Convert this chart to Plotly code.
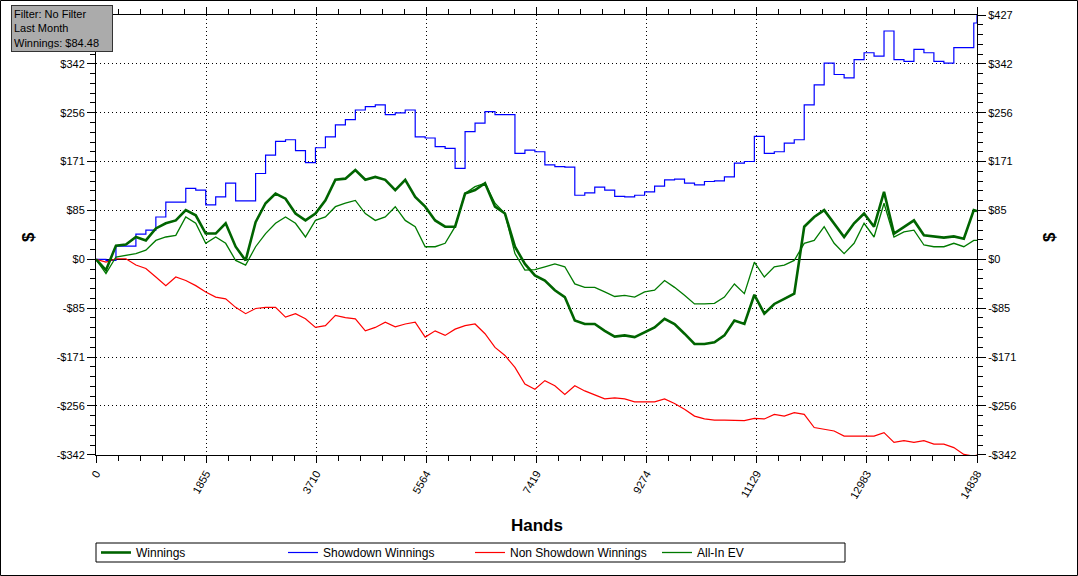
import plotly.graph_objects as go

hands = [0, 168, 336, 504, 672, 840, 1008, 1176, 1344, 1512, 1680, 1848, 2016, 2184, 2352,
         2520, 2688, 2856, 3024, 3192, 3360, 3528, 3696, 3864, 4032, 4200, 4368, 4536, 4704,
         4872, 5040, 5208, 5376, 5544, 5712, 5880, 6048, 6216, 6384, 6552, 6720, 6888, 7056,
         7224, 7392, 7560, 7728, 7896, 8064, 8232, 8400, 8568, 8736, 8904, 9072, 9240, 9408,
         9576, 9744, 9912, 10080, 10248, 10416, 10584, 10752, 10920, 11088, 11256, 11424,
         11592, 11760, 11928, 12096, 12264, 12432, 12600, 12768, 12936, 13104, 13272, 13440,
         13608, 13776, 13944, 14112, 14280, 14448, 14616, 14784, 14838]

winnings = [0, -19, 24, 26, 39, 33, 54, 63, 68, 86,
            77, 45, 45, 63, 22, -2, 65, 98, 115, 106,
            80, 68, 80, 103, 139, 141, 156, 139, 144, 139,
            121, 139, 109, 92, 68, 57, 57, 115, 121, 133,
            92, 80, 22, -8, -28, -37, -54, -66, -107, -113,
            -113, -125, -135, -133, -136, -127, -119, -104, -113, -130,
            -148, -148, -145, -133, -107, -113, -62, -95, -78, -69,
            -60, 57, 74, 86, 63, 39, 63, 80, 57, 118,
            45, 57, 68, 42, 40, 38, 40, 36, 86, 84.48]

showdown = [0, -2, 23, 23, 44, 51, 74, 100, 100, 124,
            121, 95, 109, 133, 102, 102, 150, 182, 206, 209,
            190, 169, 195, 214, 235, 244, 261, 267, 270, 253,
            256, 261, 214, 212, 197, 194, 159, 223, 238, 258,
            253, 253, 185, 191, 188, 165, 162, 161, 112, 116,
            126, 121, 110, 109, 112, 118, 128, 139, 140, 133,
            130, 136, 137, 144, 168, 171, 215, 185, 188, 203,
            209, 270, 305, 343, 323, 317, 349, 361, 355, 399,
            349, 346, 367, 361, 346, 343, 370, 370, 413, 427]

non_showdown = [0, -5, 1, 1, -10, -16, -31, -46, -31, -37,
                -46, -57, -66, -69, -84, -95, -86, -84, -84, -101,
                -95, -104, -119, -116, -98, -102, -104, -125, -119, -110,
                -118, -113, -110, -136, -125, -133, -122, -116, -113, -130,
                -154, -168, -189, -218, -227, -212, -221, -236, -221, -230,
                -237, -244, -242, -244, -249, -249, -249, -244, -252, -262,
                -274, -279, -281, -281, -282, -282, -278, -279, -271, -274,
                -268, -271, -294, -297, -300, -309, -309, -309, -309, -303,
                -320, -317, -320, -317, -323, -323, -329, -341, -344, -342]

allin_ev = [0, -25, 4, 7, 10, 16, 33, 39, 42, 74,
            63, 28, 39, 28, -2, -10, 22, 45, 63, 74,
            63, 39, 68, 74, 92, 98, 103, 80, 68, 74,
            92, 68, 57, 22, 22, 28, 57, 115, 127, 133,
            98, 80, 10, -19, -18, -13, -8, -13, -43, -49,
            -49, -57, -65, -63, -66, -57, -54, -37, -49, -63,
            -78, -78, -77, -66, -43, -60, -5, -31, -13, -10,
            -2, 28, 33, 57, 28, 10, 28, 63, 39, 98,
            39, 48, 51, 25, 22, 22, 28, 22, 33, 33]

x_tick_vals = [0, 1855, 3710, 5564, 7419, 9274, 11129, 12983, 14838]
x_tick_text = ["0", "1855", "3710", "5564", "7419", "9274", "11129", "12983", "14838"]
y_tick_vals = [-341.6, -256.2, -170.8, -85.4, 0, 85.4, 170.8, 256.2, 341.6, 427]
y_tick_text = ["-$342", "-$256", "-$171", "-$85", "$0", "$85", "$171", "$256", "$342", "$427"]

info_lines = ["Filter: No Filter", "Last Month", "Winnings: $84.48"]

# minor ticks: 5 intervals between majors
x_minor = []
for a, b in zip(x_tick_vals[:-1], x_tick_vals[1:]):
    for k in range(1, 5):
        x_minor.append(a + (b - a) * k / 5)
y_minor = []
for a, b in zip(y_tick_vals[:-1], y_tick_vals[1:]):
    for k in range(1, 5):
        y_minor.append(a + (b - a) * k / 5)

W, H = 1078, 576
L, R, T, B = 96, 101, 15, 121
PW, PH = W - L - R, H - T - B

fig = go.Figure()
fig.add_trace(go.Scatter(x=hands, y=showdown, mode="lines", name="Showdown Winnings",
                         line=dict(color="#0000FF", width=1.2, shape="hv"), legendrank=2))
fig.add_trace(go.Scatter(x=hands, y=non_showdown, mode="lines", name="Non Showdown Winnings",
                         line=dict(color="#FF0000", width=1.2), legendrank=3))
fig.add_trace(go.Scatter(x=hands, y=allin_ev, mode="lines", name="All-In EV",
                         line=dict(color="#007A00", width=1.3), legendrank=4))
fig.add_trace(go.Scatter(x=hands, y=winnings, mode="lines", name="Winnings",
                         line=dict(color="#006400", width=2.6), legendrank=1))
fig.add_trace(go.Scatter(x=[hands[0]], y=[winnings[0]], yaxis="y2", mode="lines",
                         opacity=0, showlegend=False, hoverinfo="skip"))

font_family = "Liberation Sans, Arial, sans-serif"

fig.update_layout(
    width=W, height=H,
    margin=dict(l=L, r=R, t=T, b=B, autoexpand=False),
    paper_bgcolor="white", plot_bgcolor="white",
    font=dict(family=font_family, size=11, color="black"),
    showlegend=True,
    legend=dict(orientation="h", x=0, xanchor="left", y=-(538 - 455) / PH, yanchor="top",
                borderwidth=0, bgcolor="rgba(0,0,0,0)",
                entrywidth=142, entrywidthmode="pixels",
                font=dict(size=12, family=font_family), tracegroupgap=0,
                itemwidth=30),
    xaxis=dict(range=[0, 14838], tickmode="array", tickvals=x_tick_vals, ticktext=x_tick_text,
               tickangle=-60, showgrid=True, gridcolor="black", griddash="1px,3px", gridwidth=1,
               showline=True, linecolor="black", linewidth=1, mirror="ticks",
               ticks="outside", ticklen=7, tickcolor="black", zeroline=False,
               tickfont=dict(size=11),
               minor=dict(tickmode="array", tickvals=x_minor, ticks="outside", ticklen=5,
                          tickcolor="black", showgrid=False)),
    yaxis=dict(range=[-342, 427], autorange=False, tickmode="array", tickvals=y_tick_vals[:-1],
               ticktext=y_tick_text[:-1], showgrid=True, gridcolor="black", griddash="1px,3px",
               gridwidth=1, showline=True, linecolor="black", linewidth=1, mirror=False,
               ticks="outside", ticklen=8, tickcolor="black",
               zeroline=True, zerolinecolor="black", zerolinewidth=1,
               tickfont=dict(size=11),
               minor=dict(tickmode="array", tickvals=y_minor, ticks="outside", ticklen=5,
                          tickcolor="black", showgrid=False)),
    yaxis2=dict(range=[-342, 427], autorange=False, overlaying="y", side="right",
                tickmode="array", tickvals=y_tick_vals, ticktext=y_tick_text,
                showgrid=False, zeroline=False, showline=True, linecolor="black", linewidth=1,
                ticks="outside", ticklen=8, tickcolor="black", tickfont=dict(size=11),
                minor=dict(tickmode="array", tickvals=y_minor, ticks="outside", ticklen=5,
                           tickcolor="black", showgrid=False)),
)

fig.add_annotation(text="<b>Hands</b>", xref="paper", yref="paper", x=0.5,
                   y=-(525 - 455) / PH, xanchor="center", yanchor="middle",
                   showarrow=False, font=dict(size=17, family=font_family))
fig.add_annotation(text="<b>$</b>", xref="paper", yref="paper", x=(28 - L) / PW,
                   y=(455 - 237) / PH, xanchor="center", yanchor="middle", textangle=-90,
                   showarrow=False, font=dict(size=17, family=font_family))
fig.add_annotation(text="<b>$</b>", xref="paper", yref="paper", x=(1049 - L) / PW,
                   y=(455 - 237) / PH, xanchor="center", yanchor="middle", textangle=-90,
                   showarrow=False, font=dict(size=17, family=font_family))
fig.add_annotation(text="<br>".join(info_lines), xref="paper", yref="paper",
                   x=(11 - L) / PW, y=1 + (T - 5) / PH, xanchor="left", yanchor="top",
                   align="left", showarrow=False, bgcolor="#ababab", bordercolor="#333333",
                   borderwidth=1, borderpad=2, width=96,
                   font=dict(size=11, family=font_family, color="black"))
# legend frame
fig.add_shape(type="rect", xref="paper", yref="paper",
              x0=0, x1=(845 - L) / PW, y0=-(562 - 455) / PH, y1=-(543 - 455) / PH,
              line=dict(color="black", width=1), fillcolor="rgba(0,0,0,0)", layer="above")
# outer frame of the whole image
fig.add_shape(type="rect", xref="paper", yref="paper",
              x0=(0.5 - L) / PW, x1=(W - 0.5 - L) / PW,
              y0=-(H - 0.5 - T - PH) / PH, y1=1 + (T - 0.5) / PH,
              line=dict(color="black", width=1), fillcolor="rgba(0,0,0,0)", layer="above")

fig.write_html("out.html", config={"displayModeBar": False},
               post_script="document.body.style.margin='0';document.body.style.overflow='hidden';")
